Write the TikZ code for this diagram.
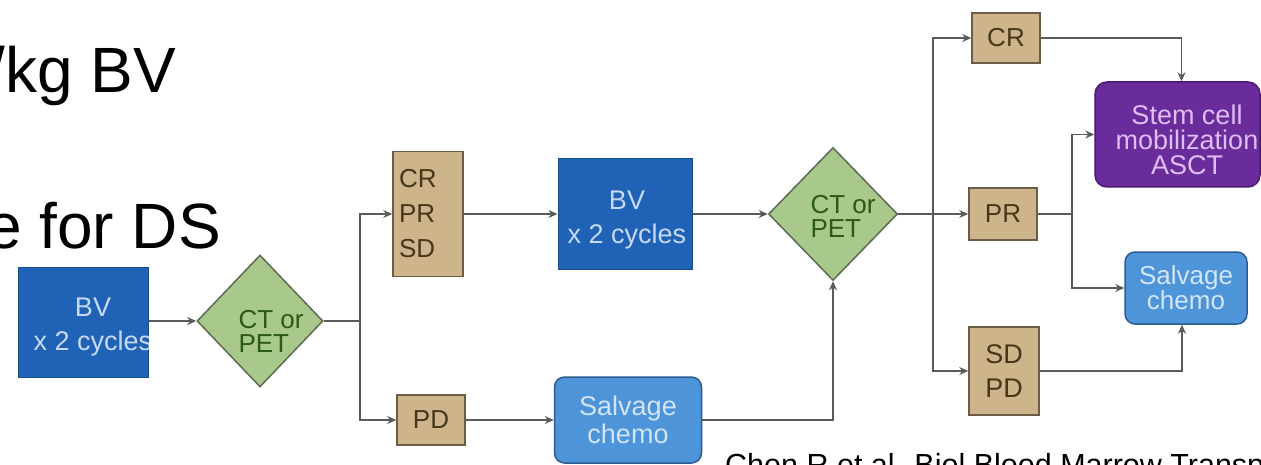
\documentclass[tikz,border=0pt]{standalone}
\usepackage{fontspec}
\setmainfont{Liberation Sans}
\usetikzlibrary{shapes.geometric,arrows.meta}
\definecolor{bvblue}{HTML}{1F62B6}
\definecolor{bvline}{HTML}{1A4C8A}
\definecolor{bvtext}{HTML}{C6D8F2}
\definecolor{tanfill}{HTML}{CDB48A}
\definecolor{tanline}{HTML}{6B5D45}
\definecolor{tantext}{HTML}{46361A}
\definecolor{dfill}{HTML}{A8C98B}
\definecolor{dline}{HTML}{5C6B50}
\definecolor{dtext}{HTML}{2C5818}
\definecolor{salfill}{HTML}{4E94D9}
\definecolor{salline}{HTML}{2B5B90}
\definecolor{saltext}{HTML}{D2E5F8}
\definecolor{purfill}{HTML}{6A2B9B}
\definecolor{purline}{HTML}{4A1C70}
\definecolor{purtext}{HTML}{DDBDF3}
\definecolor{conn}{HTML}{5A5A5A}
\begin{document}
\begin{tikzpicture}[x=1pt,y=-1pt,
  line/.style={draw=conn, line width=1.7pt},
  arr/.style={line, -{Stealth[length=9pt,width=8pt]}},
  bvbox/.style={rectangle, fill=bvblue, draw=bvline, line width=1pt, inner sep=0pt},
  bvtxt/.style={text=bvtext, align=center, inner sep=0pt, font=\fontsize{27}{34}\selectfont},
  tanbox/.style={rectangle, fill=tanfill, draw=tanline, line width=1.5pt, inner sep=0pt,
     text=tantext, font=\fontsize{26}{35}\selectfont},
  diam/.style={diamond, fill=dfill, draw=dline, line width=1.5pt, inner sep=0pt},
  dtxt/.style={text=dtext, align=left, inner sep=0pt, font=\fontsize{26}{24}\selectfont},
  salbox/.style={rectangle, rounded corners=10pt, fill=salfill, draw=salline, line width=1.5pt,
     inner sep=0pt, text=saltext, align=center},
  purbox/.style={rectangle, rounded corners=12pt, fill=purfill, draw=purline, line width=1.5pt,
     inner sep=0pt},
  purtxt/.style={text=purtext, align=center, inner sep=0pt, font=\fontsize{27}{25}\selectfont},
  bigtxt/.style={inner sep=0pt, font=\fontsize{64}{70}\selectfont},
  cite/.style={inner sep=0pt, font=\fontsize{30.5}{34}\selectfont}
]
\useasboundingbox (0,0) rectangle (1261,465);
\clip (0,0) rectangle (1261,465);

% heading text
\node[bigtxt, anchor=base east] (t1) at (176,93) {/kg BV};
\node[bigtxt, anchor=base east] (t2) at (221,248) {e for DS};

% first stage
\node[bvbox, minimum width=130, minimum height=110] (bv1) at (83,322) {};
\begin{scope}
  \clip (bv1.south west) rectangle (bv1.north east);
  \node[bvtxt] (bv1t) at (93,327) {BV\\x 2 cycles};
\end{scope}
\node[diam, minimum width=126, minimum height=132] (d1) at (260,321) {};
\node[dtxt] (d1t) at (271,331) {CT or\\PET};

\coordinate (j1) at (360,321);

\node[tanbox, minimum width=70, minimum height=125, text width=58pt, align=left] (crs) at (428,214) {CR\\PR\\SD};
\node[tanbox, minimum width=68, minimum height=50] (pd) at (431,420) {PD};

\node[bvbox, minimum width=134, minimum height=110] (bv2) at (625,214) {};
\node[bvtxt] (bv2t) at (627,220) {BV\\x 2 cycles};

\node[salbox, minimum width=147, minimum height=86, font=\fontsize{27}{28}\selectfont] (sal1) at (628,420) {Salvage\\chemo};

% second stage
\node[diam, minimum width=129, minimum height=133] (d2) at (833,214) {};
\node[dtxt] (d2t) at (843,216) {CT or\\PET};

\coordinate (j2) at (933,214);

\node[tanbox, minimum width=68, minimum height=50] (cr) at (1006,38) {CR};
\node[tanbox, minimum width=68, minimum height=52] (pr) at (1003,214) {PR};
\node[tanbox, minimum width=70, minimum height=88, align=center, font=\fontsize{27}{34}\selectfont] (sdpd) at (1004,371) {SD\\PD};

\coordinate (j3) at (1072,214);

\node[purbox, minimum width=165, minimum height=105] (stem) at (1177.5,134.5) {};
\node[purtxt] (stemt) at (1187,140) {Stem cell\\mobilization\\ASCT};

\node[salbox, minimum width=122, minimum height=72, font=\fontsize{26}{23}\selectfont] (sal2) at (1186,288) {Salvage\\chemo};

% citation
\node[cite, anchor=base west] (ref) at (725,475) {Chen R et al. Biol Blood Marrow Transplant};

% connectors
\draw[arr] (bv1.east |- d1.west) -- (d1.west);
\draw[line] (d1.east) -- (j1);
\draw[arr] (j1) |- (crs.west);
\draw[arr] (j1) |- (pd.west);
\draw[arr] (crs.east) -- (bv2.west);
\draw[arr] (pd.east) -- (sal1.west);
\draw[arr] (bv2.east) -- (d2.west);
\draw[arr] (sal1.east) -| (d2.south);
\draw[line] (d2.east) -- (j2);
\draw[arr] (j2) |- (cr.west);
\draw[arr] (j2) -- (pr.west);
\draw[arr] (j2) |- (sdpd.west);
\draw[arr] (cr.east) -| ([xshift=4pt]stem.north);
\draw[line] (pr.east) -- (j3);
\draw[arr] (j3) |- (stem.west);
\draw[arr] (j3) |- (sal2.west);
\draw[arr] (sdpd.east) -| ([xshift=-4pt]sal2.south);
\end{tikzpicture}
\end{document}
